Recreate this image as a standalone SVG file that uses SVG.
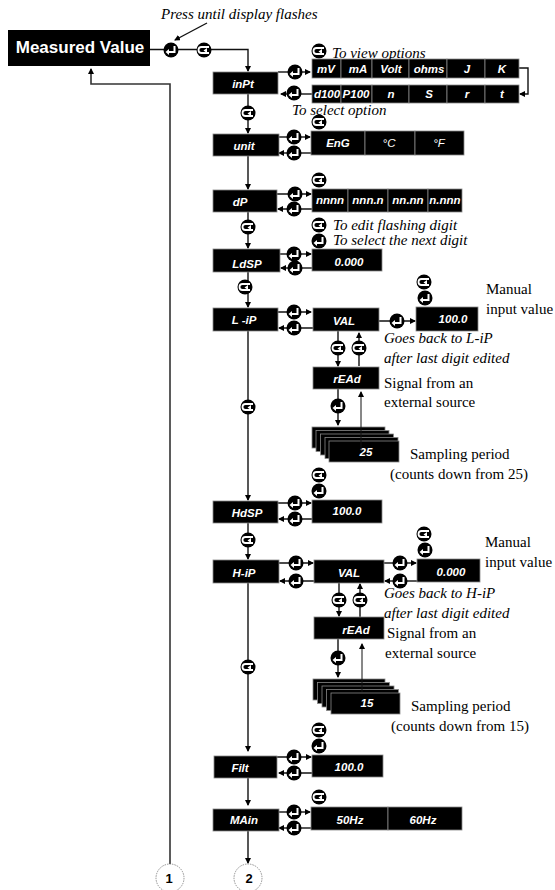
<svg xmlns="http://www.w3.org/2000/svg" width="555" height="890" viewBox="0 0 555 890">
<style>
.b{fill:#000;stroke:#888;stroke-width:.8}
.t{font:italic bold 11.5px "Liberation Sans",Arial,sans-serif;fill:#fff;text-anchor:middle}
.n{font:15px "Liberation Serif","Times New Roman",serif;fill:#000}
.i{font:italic 15px "Liberation Serif","Times New Roman",serif;fill:#000}
.c path,.c line{fill:none;stroke:#111;stroke-width:1.4}
.num{font:bold 13px "Liberation Sans",Arial,sans-serif;fill:#000;text-anchor:middle}
</style>
<defs>
<marker id="a" markerWidth="6" markerHeight="6" refX="5" refY="3" orient="auto" markerUnits="userSpaceOnUse"><path d="M0 0L6 3L0 6z" fill="#000"/></marker>
<symbol id="e" overflow="visible"><circle r="7.500" fill="#000"/><path d="M3.500-4V2H-3" fill="none" stroke="#fff" stroke-width="2"/><path d="M-5.500 2L-2-1V5z" fill="#fff"/></symbol>
<symbol id="y" overflow="visible"><circle r="7.500" fill="#000"/><path d="M5-3H-2.500a3 3 0 0 0 0 6H5" fill="none" stroke="#fff" stroke-width="1.800"/><path d="M-.5 0.500L3-2V3z" fill="#fff"/></symbol>
</defs>
<g id="connectors" class="c">
<path d="M150 49.500H248V71" marker-end="url(#a)"/>
<path d="M207 23L175 40" stroke-width="1" marker-end="url(#a)"/>
<path d="M170 864V84H91V69" style="stroke:#333;stroke-width:1.600" marker-end="url(#a)"/>
<path d="M248 94V133" marker-end="url(#a)"/>
<path d="M248 156V189" marker-end="url(#a)"/>
<path d="M248 212V248" marker-end="url(#a)"/>
<path d="M248 272V307" marker-end="url(#a)"/>
<path d="M248 331V500" marker-end="url(#a)"/>
<path d="M248 523V559" marker-end="url(#a)"/>
<path d="M248 583V751" marker-end="url(#a)"/>
<path d="M248 778V805" marker-end="url(#a)"/>
<path d="M248 831V863" marker-end="url(#a)"/>
<path d="M278 72H310" marker-end="url(#a)"/><path d="M312 94H281" marker-end="url(#a)"/>
<path d="M519 68H528V94H520" marker-end="url(#a)"/>
<path d="M279 137H310" marker-end="url(#a)"/><path d="M311 153H279" marker-end="url(#a)"/>
<path d="M277 194H311" marker-end="url(#a)"/><path d="M312 209H278" marker-end="url(#a)"/>
<path d="M280 254H311" marker-end="url(#a)"/><path d="M312 268H281" marker-end="url(#a)"/>
<path d="M278 312H311" marker-end="url(#a)"/><path d="M313 328H279" marker-end="url(#a)"/>
<path d="M379 321H415" marker-end="url(#a)"/>
<path d="M338 331V366" marker-end="url(#a)"/><path d="M359 366V333" marker-end="url(#a)"/>
<path d="M338 389V425" marker-end="url(#a)"/>
<path d="M278 503H311" marker-end="url(#a)"/><path d="M312 519H279" marker-end="url(#a)"/>
<path d="M279 563H313" marker-end="url(#a)"/><path d="M314 581H280" marker-end="url(#a)"/>
<path d="M384 563H416" marker-end="url(#a)"/><path d="M417 581H385" marker-end="url(#a)"/>
<path d="M339 583V616" marker-end="url(#a)"/><path d="M360 617V584" marker-end="url(#a)"/>
<path d="M338 639V677" marker-end="url(#a)"/>
<path d="M277 757H311" marker-end="url(#a)"/><path d="M312 773H279" marker-end="url(#a)"/>
<path d="M279 812H310" marker-end="url(#a)"/><path d="M311 828H279" marker-end="url(#a)"/>
</g>
<g id="buttons">
<use href="#e" x="171" y="50"/><use href="#y" x="204" y="50"/>
<use href="#y" x="248" y="113"/><use href="#y" x="319" y="51"/><use href="#e" x="295" y="72"/><use href="#e" x="294" y="93"/>
<use href="#y" x="319" y="122"/><use href="#e" x="294" y="137"/><use href="#e" x="294" y="153"/>
<use href="#y" x="319" y="180"/><use href="#e" x="295" y="194"/><use href="#e" x="294" y="209"/>
<use href="#y" x="248" y="227"/><use href="#y" x="319" y="225"/><use href="#e" x="319" y="241"/>
<use href="#e" x="294" y="254"/><use href="#e" x="295" y="268"/><use href="#y" x="245" y="287"/>
<use href="#e" x="294" y="312"/><use href="#e" x="294" y="328"/><use href="#e" x="397" y="321"/>
<use href="#y" x="424" y="282"/><use href="#e" x="425" y="298"/>
<use href="#y" x="338" y="348"/><use href="#y" x="359" y="348"/><use href="#e" x="338" y="406"/>
<use href="#y" x="248" y="407"/><use href="#y" x="319" y="475"/><use href="#e" x="319" y="491"/>
<use href="#e" x="295" y="503"/><use href="#e" x="295" y="519"/><use href="#y" x="248" y="540"/>
<use href="#e" x="296" y="563"/><use href="#e" x="296" y="581"/><use href="#e" x="400" y="563"/><use href="#e" x="400" y="581"/>
<use href="#y" x="424" y="534"/><use href="#e" x="425" y="550"/>
<use href="#y" x="339" y="600"/><use href="#y" x="360" y="600"/><use href="#e" x="338" y="658"/>
<use href="#y" x="248" y="667"/><use href="#y" x="319" y="730"/><use href="#e" x="319" y="746"/>
<use href="#e" x="294" y="757"/><use href="#e" x="294" y="773"/>
<use href="#y" x="319" y="797"/><use href="#e" x="294" y="812"/><use href="#e" x="294" y="828"/>
</g>
<g id="measured"><rect x="8" y="30" width="142" height="36" fill="#000"/><text x="80" y="53" text-anchor="middle" style="font:bold 17px 'Liberation Sans',Arial,sans-serif" fill="#fff">Measured Value</text></g>
<g id="inPt"><rect class="b" x="213" y="72" width="65" height="22"/><text class="t" x="243" y="88">inPt</text></g>
<g id="unit"><rect class="b" x="213" y="134" width="66" height="22"/><text class="t" x="244" y="150">unit</text></g>
<g id="dP"><rect class="b" x="213" y="190" width="64" height="22"/><text class="t" x="240" y="206">dP</text></g>
<g id="LdSP"><rect class="b" x="213" y="249" width="67" height="23"/><text class="t" x="247" y="268">LdSP</text></g>
<g id="LiP"><rect class="b" x="213" y="308" width="65" height="23"/><text class="t" x="244" y="324">L -iP</text></g>
<g id="HdSP"><rect class="b" x="213" y="501" width="65" height="22"/><text class="t" x="247" y="517">HdSP</text></g>
<g id="HiP"><rect class="b" x="213" y="560" width="66" height="23"/><text class="t" x="244" y="577">H-iP</text></g>
<g id="Filt"><rect class="b" x="214" y="756" width="63" height="22"/><text class="t" x="240" y="772">Filt</text></g>
<g id="MAin"><rect class="b" x="213" y="809" width="66" height="22"/><text class="t" x="244" y="824">MAin</text></g>
<g id="inputs1">
<rect class="b" x="312" y="59" width="29" height="19"/><text class="t" x="326" y="73">mV</text>
<rect class="b" x="341" y="59" width="31" height="19"/><text class="t" x="358" y="73">mA</text>
<rect class="b" x="372" y="59" width="37" height="19"/><text class="t" x="391" y="73">Volt</text>
<rect class="b" x="409" y="59" width="38" height="19"/><text class="t" x="429" y="73">ohms</text>
<rect class="b" x="447" y="59" width="38" height="19"/><text class="t" x="467" y="73">J</text>
<rect class="b" x="485" y="59" width="34" height="19"/><text class="t" x="502" y="73">K</text>
</g>
<g id="inputs2">
<rect class="b" x="312" y="85" width="29" height="18"/><text class="t" x="327" y="98">d100</text>
<rect class="b" x="341" y="85" width="31" height="18"/><text class="t" x="356" y="98">P100</text>
<rect class="b" x="372" y="85" width="37" height="18"/><text class="t" x="391" y="98">n</text>
<rect class="b" x="409" y="85" width="38" height="18"/><text class="t" x="429" y="98">S</text>
<rect class="b" x="447" y="85" width="38" height="18"/><text class="t" x="467" y="98">r</text>
<rect class="b" x="485" y="85" width="34" height="18"/><text class="t" x="502" y="98">t</text>
</g>
<g id="units">
<rect class="b" x="311" y="131" width="54" height="24"/><text class="t" x="338" y="147">EnG</text>
<rect class="b" x="365" y="131" width="50" height="24"/><text class="t" x="389" y="147" style="font-weight:normal">°C</text>
<rect class="b" x="415" y="131" width="49" height="24"/><text class="t" x="439" y="147" style="font-weight:normal">°F</text>
</g>
<g id="dPopts">
<rect class="b" x="312" y="189" width="36" height="23"/><text class="t" x="330" y="204">nnnn</text>
<rect class="b" x="348" y="189" width="40" height="23"/><text class="t" x="368" y="204">nnn.n</text>
<rect class="b" x="388" y="189" width="40" height="23"/><text class="t" x="408" y="204">nn.nn</text>
<rect class="b" x="428" y="189" width="34" height="23"/><text class="t" x="445" y="204">n.nnn</text>
</g>
<g id="LdSPv"><rect class="b" x="312" y="249" width="70" height="22"/><text class="t" x="349" y="266">0.000</text></g>
<g id="LVAL"><rect class="b" x="313" y="308" width="66" height="23"/><text class="t" x="344" y="325">VAL</text></g>
<g id="Lval"><rect class="b" x="416" y="307" width="62" height="24"/><text class="t" x="453" y="323">100.0</text></g>
<g id="LrEAd"><rect class="b" x="313" y="367" width="66" height="22"/><text class="t" x="347" y="383">rEAd</text></g>
<g id="Lstack">
<rect class="b" x="312" y="427" width="73" height="21"/><rect class="b" x="316" y="430.500" width="73" height="21"/><rect class="b" x="320.500" y="434" width="73" height="21"/><rect class="b" x="325" y="437.500" width="73" height="21"/><rect class="b" x="329" y="441" width="70" height="21"/><text class="t" x="366" y="456">25</text>
</g>
<path d="M361 450V392" fill="none" stroke="#111" stroke-width="1" marker-end="url(#a)"/>
<g id="HdSPv"><rect class="b" x="312" y="500" width="70" height="23"/><text class="t" x="347" y="515">100.0</text></g>
<g id="HVAL"><rect class="b" x="314" y="560" width="70" height="23"/><text class="t" x="349" y="577">VAL</text></g>
<g id="Hval"><rect class="b" x="417" y="559" width="63" height="23"/><text class="t" x="451" y="576">0.000</text></g>
<g id="HrEAd"><rect class="b" x="314" y="617" width="70" height="22"/><text class="t" x="356" y="634">rEAd</text></g>
<g id="Hstack">
<rect class="b" x="313" y="679" width="72" height="21"/><rect class="b" x="317.500" y="682.500" width="72" height="21"/><rect class="b" x="322" y="686" width="72" height="21"/><rect class="b" x="326.500" y="689.500" width="72" height="21"/><rect class="b" x="331" y="693" width="69" height="21"/><text class="t" x="367" y="707">15</text>
</g>
<path d="M362 692V644" fill="none" stroke="#111" stroke-width="1" marker-end="url(#a)"/>
<g id="Filtv"><rect class="b" x="312" y="755" width="71" height="22"/><text class="t" x="349" y="771">100.0</text></g>
<g id="Hz">
<rect class="b" x="311" y="807" width="77" height="23"/><text class="t" x="350" y="824">50Hz</text>
<rect class="b" x="388" y="807" width="74" height="23"/><text class="t" x="423" y="824">60Hz</text>
</g>
<g id="labels">
<text class="i" x="161" y="19">Press until display flashes</text>
<text class="i" x="332" y="58">To view options</text>
<text class="i" x="292" y="115">To select option</text>
<text class="i" x="333" y="230">To edit flashing digit</text>
<text class="i" x="333" y="245">To select the next digit</text>
<text class="n" x="486" y="294">Manual</text><text class="n" x="486" y="314">input value</text>
<text class="i" x="384" y="343">Goes back to L-iP</text><text class="i" x="384" y="363">after last digit edited</text>
<text class="n" x="384" y="388">Signal from an</text><text class="n" x="384" y="407">external source</text>
<text class="n" x="410" y="459">Sampling period</text><text class="n" x="390" y="479">(counts down from 25)</text>
<text class="n" x="485" y="547">Manual</text><text class="n" x="485" y="567">input value</text>
<text class="i" x="384" y="598">Goes back to H-iP</text><text class="i" x="384" y="618">after last digit edited</text>
<text class="n" x="387" y="638">Signal from an</text><text class="n" x="385" y="658">external source</text>
<text class="n" x="411" y="711">Sampling period</text><text class="n" x="391" y="731">(counts down from 15)</text>
</g>
<g id="off1"><circle cx="170" cy="878" r="14" fill="#fff" stroke="#777" stroke-width=".8" stroke-dasharray="1.500 1"/><text class="num" x="169" y="883">1</text></g>
<g id="off2"><circle cx="248" cy="878" r="14" fill="#fff" stroke="#777" stroke-width=".8" stroke-dasharray="1.500 1"/><text class="num" x="249" y="883">2</text></g>
</svg>
